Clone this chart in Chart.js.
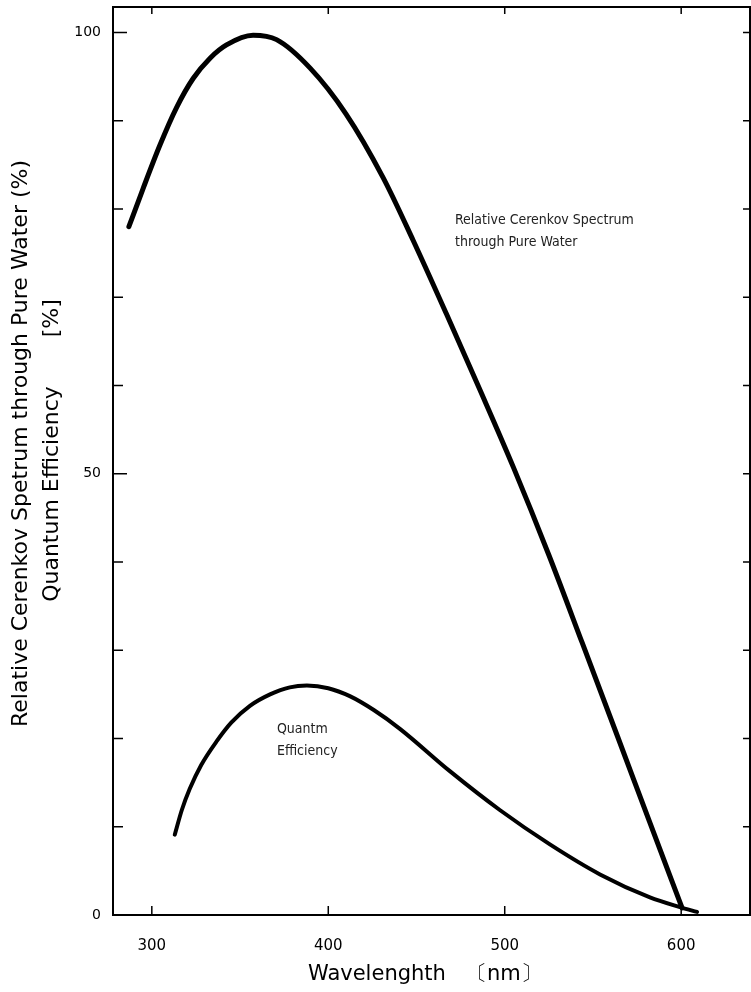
<!DOCTYPE html>
<html>
<head>
<meta charset="utf-8">
<title>Cerenkov spectrum and quantum efficiency</title>
<script src="https://cdn.jsdelivr.net/npm/chart.js@4/dist/chart.umd.min.js"></script>
<style>
  html, body { margin: 0; padding: 0; background: #fff; }
  #wrap { width: 751px; height: 992px; position: relative; }
</style>
</head>
<body>
<div id="wrap"><canvas id="myChart"></canvas></div>
<script>
// Cerenkov spectrum through pure water (relative, %)
const cerenkovWl  = [287, 295, 304.5, 314, 323.4, 333, 342.3, 357.4, 370.7, 389.6, 410, 431, 448, 467, 486, 505, 525, 544, 564, 582, 600.5];
const cerenkovVal = [78.0, 82.3, 87.2, 91.5, 94.8, 97.1, 98.6, 99.7, 99.2, 96.0, 90.8, 83.6, 76.5, 68.1, 59.5, 50.7, 40.8, 30.8, 20.2, 10.6, 0.8];

// Quantum efficiency (%)
const qeWl  = [313, 317, 321.5, 328, 336.8, 345, 355.6, 367, 378.2, 387.9, 400, 412.2, 426, 440.6, 468.9, 497.2, 525.6, 554, 582.3, 599.3, 609];
const qeVal = [9.1, 11.9, 14.3, 17.0, 19.7, 21.8, 23.7, 25.0, 25.8, 26.0, 25.7, 24.8, 23.2, 21.1, 16.3, 11.9, 8.0, 4.6, 2.0, 0.9, 0.35];

const xTicks = [300, 400, 500, 600];
const yTicks = [0, 10, 20, 30, 40, 50, 60, 70, 80, 90, 100];
const yLabels = [0, 50, 100];

const narrow = "'DejaVu Sans Condensed', 'Liberation Sans Narrow', sans-serif";
const wide = "'DejaVu Sans', 'Liberation Sans', sans-serif";

function toPoints(xs, ys) {
    return xs.map((v, i) => ({ x: v, y: ys[i] }));
}

// cadre + graduations tournees vers l'interieur, et les deux legendes dans le graphe
const frameAndTicks = {
    id: 'frameAndTicks',
    afterDatasetsDraw(chart) {
        const { ctx, chartArea: a, scales: { x, y } } = chart;
        ctx.save();
        ctx.strokeStyle = '#000';
        ctx.lineWidth = 2;
        ctx.strokeRect(a.left, a.top, a.right - a.left, a.bottom - a.top);

        ctx.lineWidth = 1.5;
        ctx.beginPath();
        xTicks.forEach(v => {
            const px = x.getPixelForValue(v);
            ctx.moveTo(px, a.bottom); ctx.lineTo(px, a.bottom - 9);
            ctx.moveTo(px, a.top); ctx.lineTo(px, a.top + 7);
        });
        yTicks.forEach(v => {
            const py = y.getPixelForValue(v);
            const len = v % 50 === 0 ? 14 : 10;
            ctx.moveTo(a.left, py); ctx.lineTo(a.left + len, py);
            ctx.moveTo(a.right, py); ctx.lineTo(a.right - 7, py);
        });
        ctx.stroke();

        ctx.fillStyle = '#222';
        ctx.font = '14px ' + narrow;
        ctx.textBaseline = 'middle';
        ctx.textAlign = 'left';
        ctx.fillText('Relative Cerenkov Spectrum', x.getPixelForValue(471.8), y.getPixelForValue(78.7));
        ctx.fillText('through Pure Water', x.getPixelForValue(471.8), y.getPixelForValue(76.2));
        ctx.fillText('Quantm', x.getPixelForValue(370.9), y.getPixelForValue(21.0));
        ctx.fillText('Efficiency', x.getPixelForValue(370.9), y.getPixelForValue(18.6));
        ctx.restore();
    }
};

const ctx = document.getElementById('myChart').getContext('2d');

new Chart(ctx, {
    type: 'line',
    data: {
        datasets: [{
            label: 'Relative Cerenkov Spectrum through Pure Water',
            data: toPoints(cerenkovWl, cerenkovVal),
            borderColor: '#000',
            borderWidth: 5,
            borderCapStyle: 'round',
            pointRadius: 0,
            cubicInterpolationMode: 'monotone',
            fill: false
        }, {
            label: 'Quantm Efficiency',
            data: toPoints(qeWl, qeVal),
            borderColor: '#000',
            borderWidth: 4,
            borderCapStyle: 'round',
            pointRadius: 0,
            cubicInterpolationMode: 'monotone',
            fill: false
        }]
    },
    options: {
        responsive: true,
        maintainAspectRatio: false,
        animation: false,
        layout: { padding: { top: 7, right: 1, left: 0, bottom: 0 } },
        plugins: {
            legend: { display: false },
            tooltip: { enabled: false }
        },
        scales: {
            x: {
                type: 'linear',
                min: 278,
                max: 639,
                afterBuildTicks: s => { s.ticks = xTicks.map(v => ({ value: v })); },
                afterFit: s => { s.height = 77; s.paddingLeft = 0; s.paddingRight = 0; },
                grid: { display: false },
                border: { display: false },
                ticks: {
                    padding: 14,
                    color: '#000',
                    font: { family: wide, size: 15 }
                },
                title: {
                    display: true,
                    text: 'Wavelenghth   〔nm〕  ',
                    color: '#000',
                    font: { family: wide, size: 21 },
                    padding: { bottom: 5 }
                }
            },
            y: {
                type: 'linear',
                min: 0,
                max: 102.9,
                afterBuildTicks: s => { s.ticks = yTicks.map(v => ({ value: v })); },
                afterFit: s => { s.width = 113; s.paddingTop = 0; s.paddingBottom = 0; },
                grid: { display: false },
                border: { display: false },
                ticks: {
                    padding: 4,
                    color: '#000',
                    font: { family: wide, size: 14 },
                    callback: v => yLabels.includes(v) ? String(v) : ''
                },
                title: {
                    display: true,
                    text: ['     Relative Cerenkov Spetrum through Pure Water (%)', '   Quantum Efficiency       [%]'],
                    color: '#000',
                    font: { family: wide, size: 22, lineHeight: 1.4 },
                    padding: { top: 6 }
                }
            }
        }
    },
    plugins: [frameAndTicks]
});
</script>
</body>
</html>
